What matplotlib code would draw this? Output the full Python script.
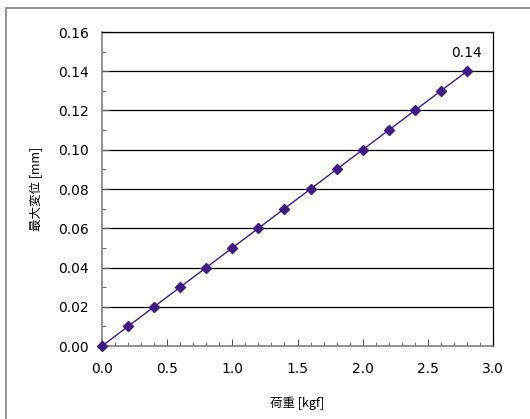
import matplotlib.pyplot as plt
from matplotlib.patches import Rectangle
from matplotlib.ticker import MultipleLocator

plt.rcParams['font.family'] = ['Noto Sans CJK JP', 'DejaVu Sans']

# load (kgf) vs max displacement (mm)
load = [0.0, 0.2, 0.4, 0.6, 0.8, 1.0, 1.2, 1.4, 1.6, 1.8, 2.0, 2.2, 2.4, 2.6, 2.8]
disp = [0.00, 0.01, 0.02, 0.03, 0.04, 0.05, 0.06, 0.07, 0.08, 0.09,
        0.10, 0.11, 0.12, 0.13, 0.14]
xticks = [0.0, 0.5, 1.0, 1.5, 2.0, 2.5, 3.0]
yticks = [0.00, 0.02, 0.04, 0.06, 0.08, 0.10, 0.12, 0.14, 0.16]

W, H = 530, 419
fig = plt.figure(figsize=(W / 100, H / 100), dpi=100)

# outer chart frame (only left/top edges visible)
fig.patches.append(Rectangle((6 / W, -0.1), 1.2, 1 - 8 / H + 0.1,
                             transform=fig.transFigure, fill=False,
                             edgecolor='#808080', lw=1.2))

ax = fig.add_axes([102 / W, 1 - 346 / H, 391 / W, 314 / H])
ax.plot(load, disp, color='#3d1a85', lw=1, marker='D', ms=5.5, zorder=3,
        clip_on=False)
ax.annotate(f'{disp[-1]:.2f}', (load[-1], disp[-1]), xytext=(0, 8),
            textcoords='offset points', ha='center', va='bottom',
            fontsize=10, family='DejaVu Sans')

ax.set_xlim(0, 3.0)
ax.set_ylim(0, 0.16)
ax.set_xticks(xticks)
ax.set_xticklabels([f'{v:.1f}' for v in xticks], family='DejaVu Sans')
ax.set_yticks(yticks)
ax.set_yticklabels([f'{v:.2f}' for v in yticks], family='DejaVu Sans')
ax.xaxis.set_minor_locator(MultipleLocator(0.1))
ax.yaxis.set_minor_locator(MultipleLocator(0.01))
ax.tick_params(which='both', direction='in', color='#555555', labelsize=10)
ax.tick_params(which='major', length=5)
ax.tick_params(which='minor', length=3)
ax.tick_params(axis='x', which='major', pad=11.5)
ax.tick_params(axis='y', which='major', pad=9.5)
ax.grid(axis='y', which='major', color='black', lw=0.9)

for s in ['left', 'bottom']:
    ax.spines[s].set_color('#808080')
    ax.spines[s].set_linewidth(1.2)
for s in ['top', 'right']:
    ax.spines[s].set_color('black')
    ax.spines[s].set_linewidth(0.9)

ax.set_xlabel('荷重 [kgf]', fontsize=9, labelpad=15)
ax.set_ylabel('最大変位 [mm]', fontsize=9, labelpad=11)

fig.savefig('out.png', dpi=100)
